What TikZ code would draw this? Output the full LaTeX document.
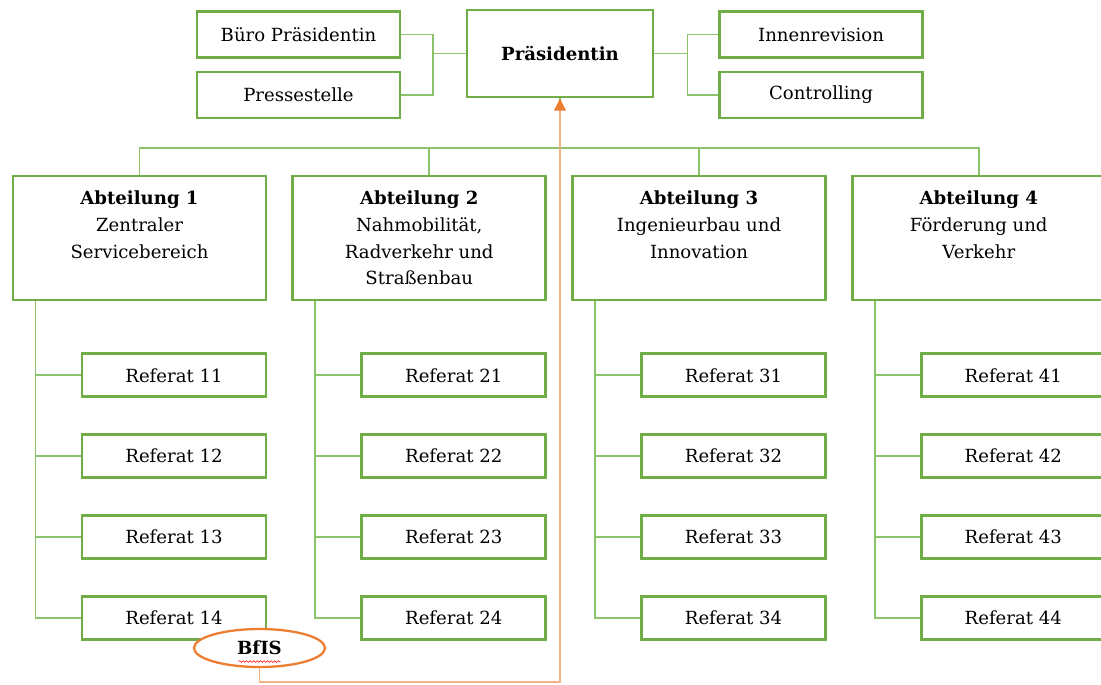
\documentclass[tikz,border=0pt]{standalone}
\usepackage{fontspec}
\setmainfont{DejaVu Serif}
\usetikzlibrary{positioning, arrows.meta, shapes.geometric, decorations.pathmorphing}
\definecolor{boxgreen}{HTML}{70AD47}
\definecolor{linegreen}{HTML}{8CC26A}
\definecolor{bforange}{HTML}{ED7D31}
\definecolor{lineorange}{HTML}{F4B183}
\tikzset{
    x=0.02cm, y=-0.02cm, % one unit is one pixel of the layout
    unit/.style={ % Sets the properties for each box
        draw=boxgreen,
        line width=1.6pt,
        fill=white,
        align=center,
        inner sep=2pt,
        font=\fontsize{10.3}{15.2}\selectfont
    },
    topunit/.style={unit, minimum width=4.06cm, minimum height=0.92cm},
    dept/.style={unit, minimum width=5.06cm, minimum height=2.48cm, text depth=-4pt},
    referat/.style={unit, minimum width=3.68cm, minimum height=0.86cm},
    link/.style={draw=linegreen, line width=1pt}, % green connectors
    report/.style={ % orange reporting line
        draw=lineorange,
        line width=1.1pt,
        -{Triangle[length=7pt, width=6.5pt, color=bforange]}
    },
    node distance=0.70cm
}

\begin{document}
\begin{tikzpicture}
    \useasboundingbox (0,0) rectangle (1101,684);
    \clip (0,0) rectangle (1101,684);

    % top level
    \node[unit, minimum width=3.72cm, minimum height=1.74cm] (praes) at (560,53.5) {\textbf{Präsidentin}};
    \node[topunit] (buero)  at (298.5,34.5) {Büro Präsidentin};
    \node[topunit] (presse) at (298.5,95)   {Pressestelle};
    \node[topunit] (innen)  at (821,34.5)   {Innenrevision};
    \node[topunit] (contr)  at (821,95)     {Controlling};

    % departments
    \node[dept] (a1) at (139.5,238) {\textbf{Abteilung 1}\\Zentraler\\Servicebereich\\~};
    \node[dept, right=0.48cm of a1] (a2) {\textbf{Abteilung 2}\\Nahmobilität,\\Radverkehr und\\Straßenbau};
    \node[dept, right=0.48cm of a2] (a3) {\textbf{Abteilung 3}\\Ingenieurbau und\\Innovation\\~};
    \node[dept, right=0.48cm of a3] (a4) {\textbf{Abteilung 4}\\Förderung und\\Verkehr\\~};

    % referate
    \node[referat, below=1.02cm of a1.south east, anchor=north east] (r11) {Referat 11};
    \node[referat, below=of r11] (r12) {Referat 12};
    \node[referat, below=of r12] (r13) {Referat 13};
    \node[referat, below=of r13] (r14) {Referat 14};
    \node[referat, below=1.02cm of a2.south east, anchor=north east] (r21) {Referat 21};
    \node[referat, below=of r21] (r22) {Referat 22};
    \node[referat, below=of r22] (r23) {Referat 23};
    \node[referat, below=of r23] (r24) {Referat 24};
    \node[referat, below=1.02cm of a3.south east, anchor=north east] (r31) {Referat 31};
    \node[referat, below=of r31] (r32) {Referat 32};
    \node[referat, below=of r32] (r33) {Referat 33};
    \node[referat, below=of r33] (r34) {Referat 34};
    \node[referat, below=1.02cm of a4.south east, anchor=north east] (r41) {Referat 41};
    \node[referat, below=of r41] (r42) {Referat 42};
    \node[referat, below=of r42] (r43) {Referat 43};
    \node[referat, below=of r43] (r44) {Referat 44};

    % staff connectors
    \coordinate (lj) at ([xshift=-0.66cm]praes.west);
    \coordinate (rj) at ([xshift=0.66cm]praes.east);
    \draw[link] (buero.east) -| (lj) |- (presse.east);
    \draw[link] (lj) -- (praes.west);
    \draw[link] (innen.west) -| (rj) |- (contr.west);
    \draw[link] (rj) -- (praes.east);

    % bus to departments
    \coordinate (bus) at (praes.south |- 0,148);
    \draw[link] (praes.south) -- (bus);
    \draw[link] (a1.north) |- (bus) -| (a4.north);
    \draw[link] ([xshift=0.2cm]a2.north) -- ([xshift=0.2cm]a2.north |- bus);
    \draw[link] (a3.north) -- (a3.north |- bus);

    % department stems
    \coordinate (s1) at ([xshift=0.48cm]a1.south west);
    \coordinate (s2) at ([xshift=0.48cm]a2.south west);
    \coordinate (s3) at ([xshift=0.48cm]a3.south west);
    \coordinate (s4) at ([xshift=0.48cm]a4.south west);
    \draw[link] (s1) |- (r14.west)  (s1 |- r11.west) -- (r11.west)
                (s1 |- r12.west) -- (r12.west)  (s1 |- r13.west) -- (r13.west);
    \draw[link] (s2) |- (r24.west)  (s2 |- r21.west) -- (r21.west)
                (s2 |- r22.west) -- (r22.west)  (s2 |- r23.west) -- (r23.west);
    \draw[link] (s3) |- (r34.west)  (s3 |- r31.west) -- (r31.west)
                (s3 |- r32.west) -- (r32.west)  (s3 |- r33.west) -- (r33.west);
    \draw[link] (s4) |- (r44.west)  (s4 |- r41.west) -- (r41.west)
                (s4 |- r42.west) -- (r42.west)  (s4 |- r43.west) -- (r43.west);

    % BfIS reporting to the president
    \node[ellipse, draw=bforange, line width=1.3pt, fill=white, minimum width=2.62cm,
          minimum height=0.76cm, font=\fontsize{10.3}{12}\selectfont] (bfis) at (259.5,648) {\textbf{BfIS}};
    \draw[red, line width=0.3pt, decorate, decoration={snake, amplitude=0.5pt, segment length=2pt}]
        ([xshift=-0.42cm, yshift=-0.27cm]bfis.center) -- ([xshift=0.42cm, yshift=-0.27cm]bfis.center);
    \coordinate (turn) at (praes.south |- 0,682);
    \draw[report] (bfis.south) |- (turn) -- (praes.south);
\end{tikzpicture}
\end{document}
